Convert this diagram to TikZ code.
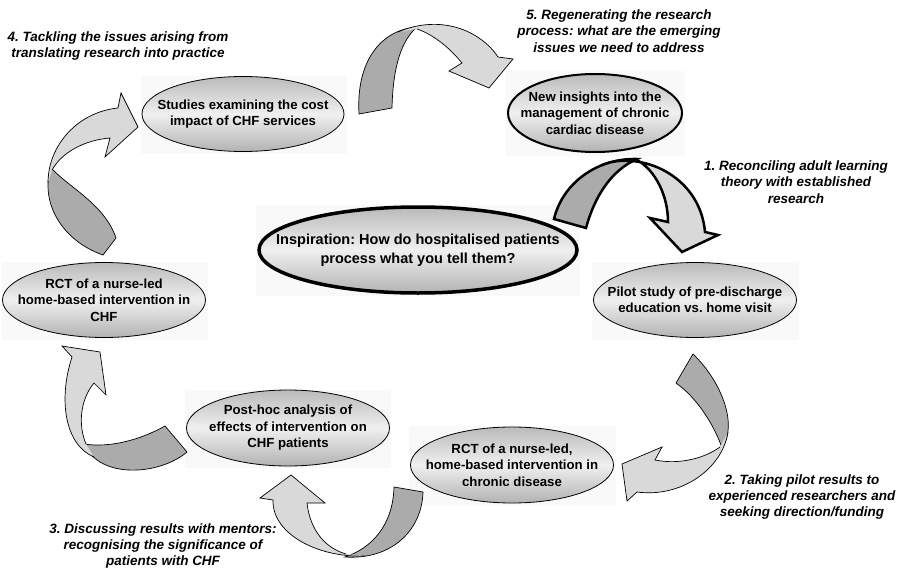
\documentclass[tikz,border=0pt]{standalone}
\usepackage{fontspec}
\setmainfont{Liberation Sans}
\usetikzlibrary{shapes.geometric}
\frenchspacing
\begin{document}
\begin{tikzpicture}[x=1pt,y=-1pt,
  stage/.style={ellipse, draw=black, line width=0.8pt, inner sep=0pt,
    top color=black!27, bottom color=black!30, middle color=black!6},
  stagetext/.style={align=center, font=\fontsize{13.2}{16.5}\selectfont\bfseries},
  steplabel/.style={align=center, font=\fontsize{13.5}{16.3}\selectfont\bfseries\itshape},
  backface/.style={fill=black!33, draw=black, line width=0.7pt},
  frontface/.style={fill=black!15, draw=black, line width=0.7pt},
  halo/.style={fill=black!2.5}
]
\useasboundingbox (0,0) rectangle (903,570);

% soft panels behind the stages
\fill[halo] (141,76) rectangle (347,154);
\fill[halo] (506,71) rectangle (685,156);
\fill[halo] (256,205) rectangle (580,296);
\fill[halo] (592,262) rectangle (799,340);
\fill[halo] (2,262) rectangle (208,340);
\fill[halo] (185,390) rectangle (391,468);
\fill[halo] (409,426) rectangle (616,505);

% stages of the cycle
\node[stage, minimum width=202pt, minimum height=75pt] (studies) at (243,114) {};
\node[stage, line width=2pt, minimum width=174pt, minimum height=78pt] (insights) at (595,113) {};
\node[stage, line width=3.5pt, minimum width=318pt, minimum height=86pt] (inspiration) at (418,250) {};
\node[stage, minimum width=203pt, minimum height=75pt] (pilot) at (695,300) {};
\node[stage, minimum width=203pt, minimum height=75pt] (rctchf) at (104,300) {};
\node[stage, minimum width=203pt, minimum height=76pt] (posthoc) at (288,428) {};
\node[stage, minimum width=203pt, minimum height=76pt] (rctcd) at (512,465) {};

% ribbon arrow 5: studies -> insights
\draw[backface] (359,114) .. controls (356,62) and (380,30) .. (417,27)
  .. controls (402,40) and (393,65) .. (392,108) -- cycle;
\filldraw[frontface] (398,32) .. controls (440,14) and (480,30) .. (498,57)
  -- (513,59) -- (489,88) -- (449,71) -- (462,63)
  .. controls (448,46) and (432,34) .. (417,29);

% ribbon arrow 1: inspiration -> pilot
\draw[backface, line width=2.5pt] (554,219) .. controls (562,185) and (595,158) .. (637,159)
  .. controls (612,170) and (595,195) .. (586,228) -- cycle;
\filldraw[frontface, line width=2.5pt] (602,165) .. controls (640,150) and (700,175) .. (705,232)
  -- (718,235) -- (682,252) -- (650,218) -- (668,222)
  .. controls (668,195) and (655,170) .. (637,160);

% ribbon arrow 2: pilot -> RCT in chronic disease
\draw[backface] (676,383) -- (693,354) .. controls (722,382) and (738,425) .. (722,448)
  .. controls (716,430) and (700,400) .. (676,383) -- cycle;
\filldraw[frontface] (728,432) .. controls (722,470) and (680,498) .. (637,492)
  -- (627,501) -- (622,464) -- (662,447) -- (655,460)
  .. controls (680,465) and (705,458) .. (720,447);

% ribbon arrow 3: RCT in chronic disease -> post-hoc analysis
\draw[backface] (394,487) -- (423,492) .. controls (422,530) and (392,560) .. (345,557)
  .. controls (372,548) and (393,525) .. (394,487) -- cycle;
\filldraw[frontface] (365,556) .. controls (320,558) and (272,535) .. (273,500)
  -- (260,498) -- (291,475) -- (325,503) -- (307,503)
  .. controls (310,530) and (325,548) .. (346,554);

% ribbon arrow: post-hoc analysis -> RCT in CHF
\draw[backface] (165,426) -- (187,452) .. controls (160,475) and (100,480) .. (84,444)
  .. controls (110,448) and (140,440) .. (165,426) -- cycle;
\filldraw[frontface] (94,457) .. controls (65,445) and (58,400) .. (72,357)
  -- (62,346) -- (100,352) -- (106,395) -- (94,383)
  .. controls (80,400) and (78,425) .. (86,444);

% ribbon arrow 4: RCT in CHF -> cost studies
\draw[backface] (116,238) -- (103,255) .. controls (60,240) and (40,200) .. (51,168)
  .. controls (70,188) and (105,205) .. (116,238) -- cycle;
\filldraw[frontface] (48,183) .. controls (48,145) and (78,112) .. (118,108)
  -- (121,93) -- (138,127) -- (105,157) -- (110,138)
  .. controls (85,140) and (62,152) .. (52,170);

% stage texts
\node[stagetext] (studies-t) at (studies) {Studies examining the cost\\impact of CHF services};
\node[stagetext] (insights-t) at (insights) {New insights into the\\management of chronic\\cardiac disease};
\node[stagetext, font=\fontsize{14.5}{18.5}\selectfont\bfseries] (inspiration-t) at (inspiration) {Inspiration: How do hospitalised patients\\process what you tell them?};
\node[stagetext] (pilot-t) at (pilot) {Pilot study of pre-discharge\\education vs. home visit};
\node[stagetext] (rctchf-t) at (rctchf) {RCT of a nurse-led\\home-based intervention in\\CHF};
\node[stagetext] (posthoc-t) at (posthoc) {Post-hoc analysis of\\effects of intervention on\\CHF patients};
\node[stagetext] (rctcd-t) at (rctcd) {RCT of a nurse-led,\\home-based intervention in\\chronic disease};

% step labels
\node[steplabel] (lab4) at (118,46) {4. Tackling the issues arising from\\translating research into practice};
\node[steplabel] (lab5) at (619,31) {5. Regenerating the research\\process: what are the emerging\\issues we need to address};
\node[steplabel] (lab1) at (796,182) {1. Reconciling adult learning\\theory with established\\research};
\node[steplabel] (lab2) at (802,497) {2. Taking pilot results to\\experienced researchers and\\seeking direction/funding};
\node[steplabel] (lab3) at (163,546) {3. Discussing results with mentors:\\recognising the significance of\\patients with CHF};
\end{tikzpicture}
\end{document}
